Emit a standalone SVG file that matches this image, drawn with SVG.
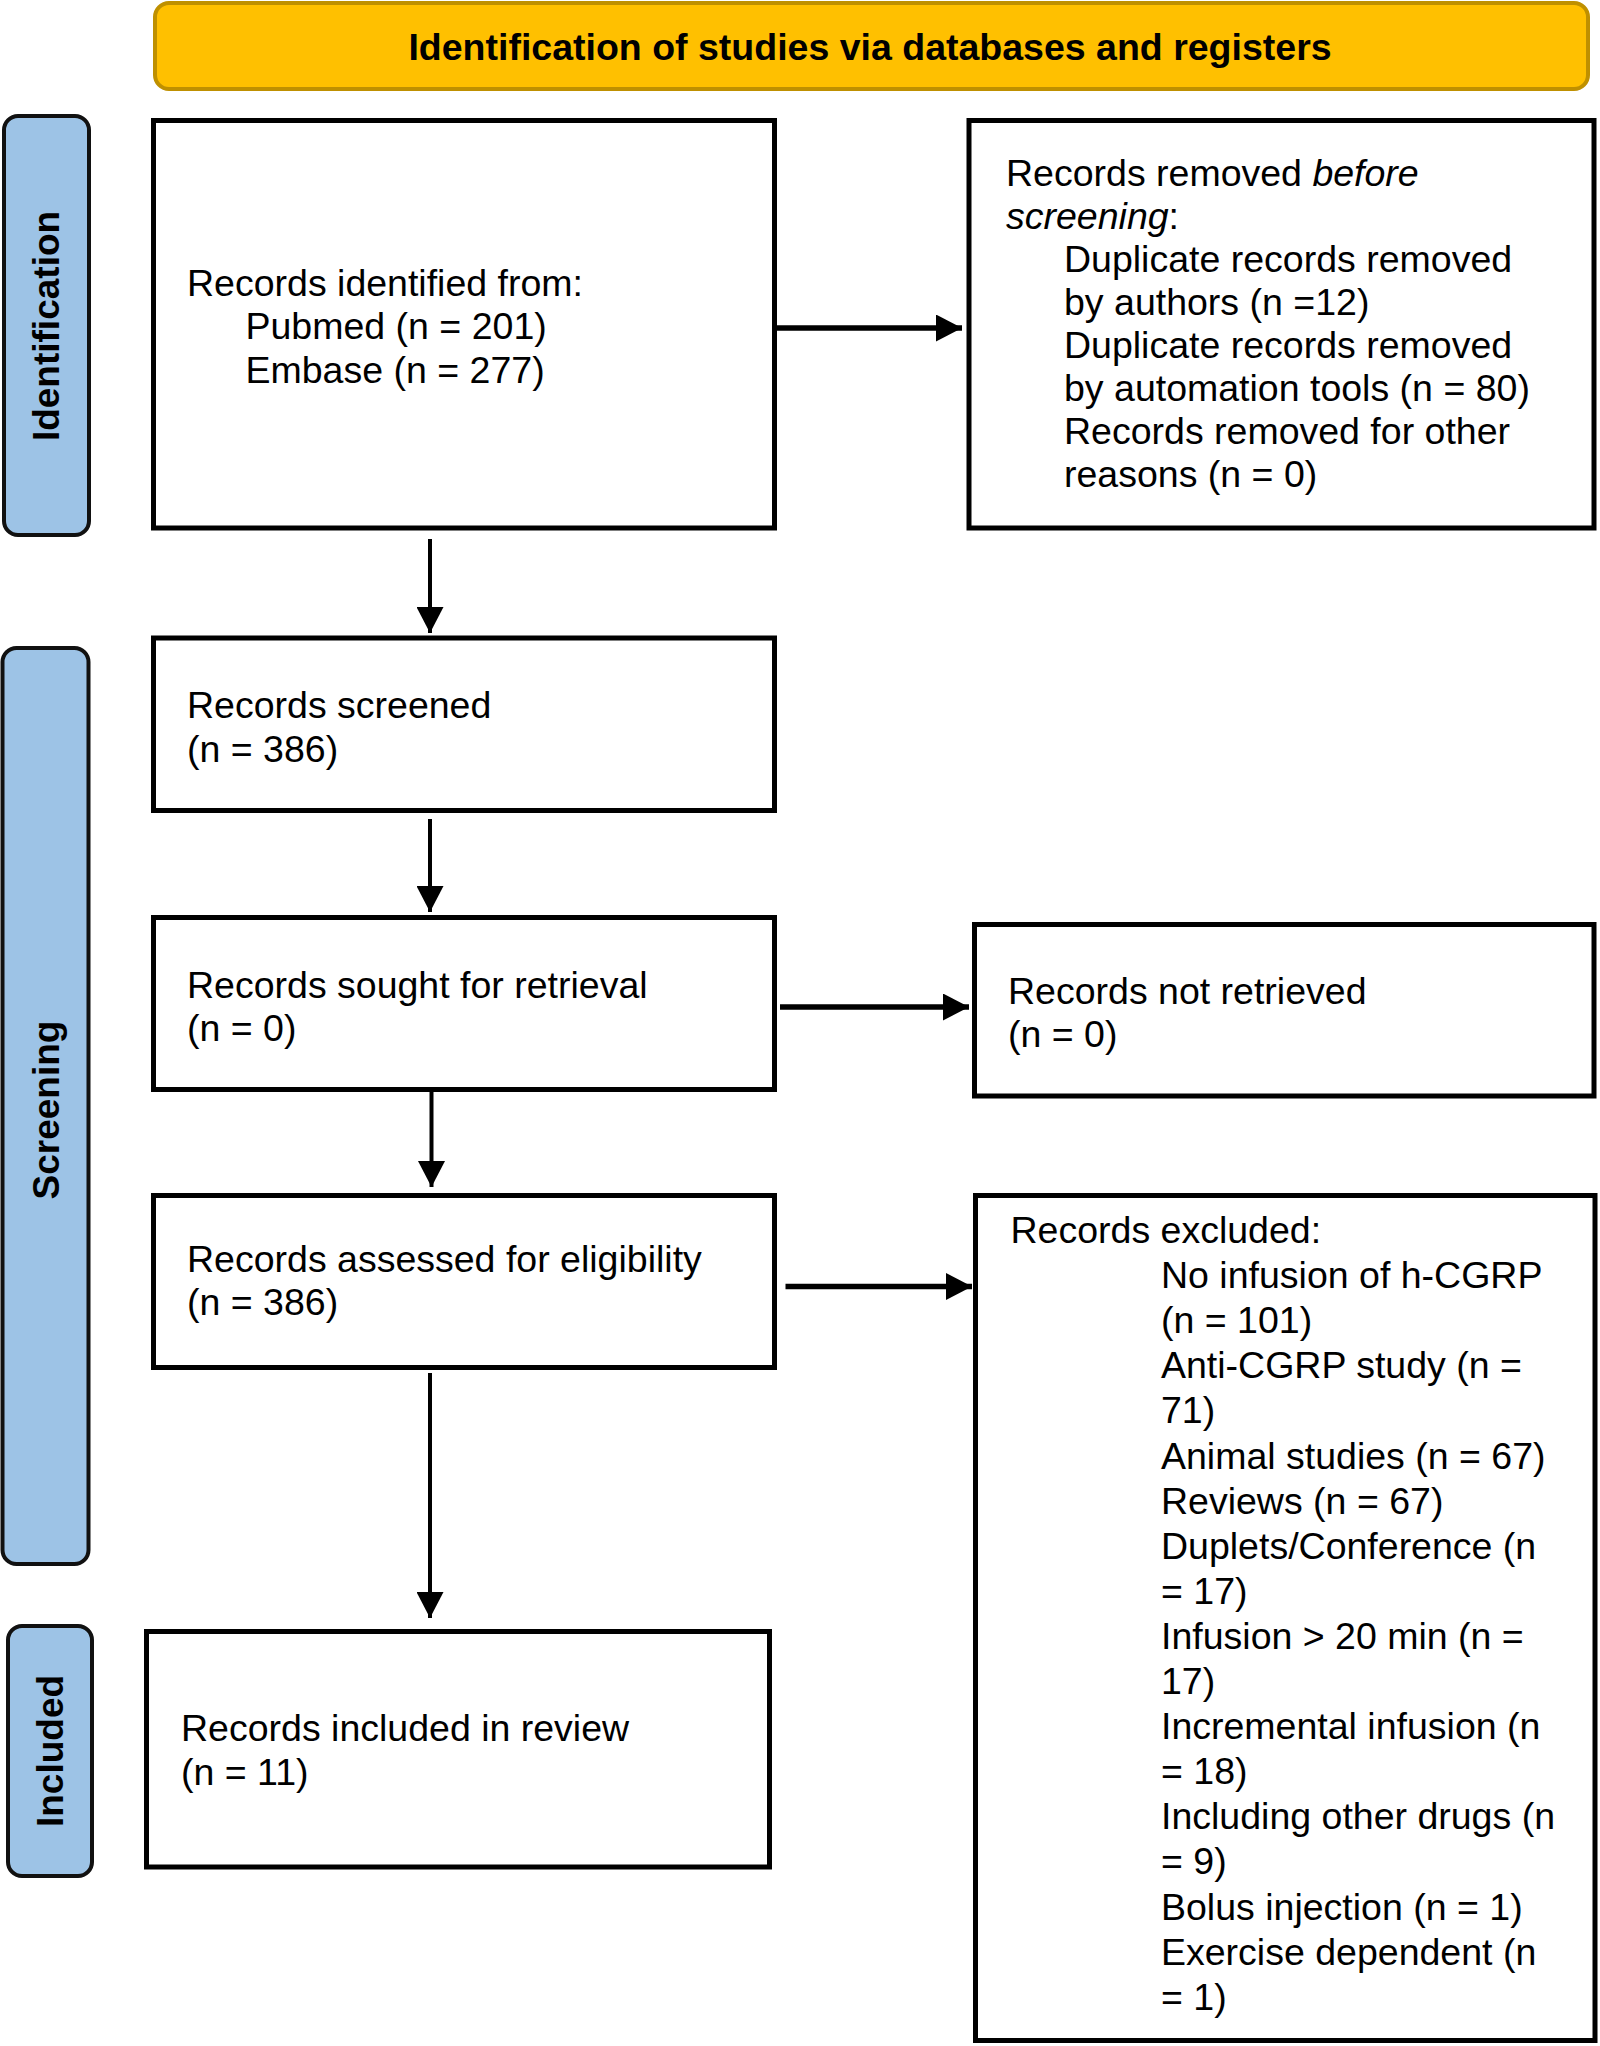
<svg xmlns="http://www.w3.org/2000/svg" width="1600" height="2046" viewBox="0 0 1600 2046">
<defs>
<style>
.box{fill:#ffffff;stroke:#000000;stroke-width:5}
.side{fill:#9DC3E6;stroke:#111111;stroke-width:4}
.t{font-family:"Liberation Sans",Arial,sans-serif;font-size:37.5px;fill:#000000}
.sb{font-family:"Liberation Sans",Arial,sans-serif;font-size:37px;font-weight:bold;fill:#000000;text-anchor:middle}
.hd{font-family:"Liberation Sans",Arial,sans-serif;font-size:37.5px;font-weight:bold;fill:#000000;text-anchor:middle}
.v{stroke:#000000;stroke-width:4;fill:none}
.h{stroke:#000000;stroke-width:5.5;fill:none}
</style>
<marker id="ah" markerUnits="userSpaceOnUse" markerWidth="26" markerHeight="27" refX="26" refY="13.5" orient="auto">
<path d="M0,0 L26,13.5 L0,27 Z" fill="#000000"/>
</marker>
</defs>
<rect width="1600" height="2046" fill="#ffffff"/>

<g id="banner">
<rect x="155" y="3" width="1433" height="86" rx="14" ry="14" fill="#FFC000" stroke="#BF9000" stroke-width="4"/>
<text class="hd" x="870" y="60">Identification of studies via databases and registers</text>
</g>

<g id="side-identification">
<rect class="side" x="4" y="116" width="85" height="419" rx="14" ry="14"/>
<text class="sb" transform="translate(59,326) rotate(-90)">Identification</text>
</g>
<g id="side-screening">
<rect class="side" x="2.5" y="648" width="86" height="916" rx="14" ry="14"/>
<text class="sb" transform="translate(59,1110) rotate(-90)">Screening</text>
</g>
<g id="side-included">
<rect class="side" x="8" y="1626" width="84" height="250" rx="14" ry="14"/>
<text class="sb" transform="translate(63,1751) rotate(-90)">Included</text>
</g>

<g id="node-identified">
<rect class="box" x="153.5" y="120.5" width="621" height="407.5"/>
<text class="t" x="187" y="296">Records identified from:</text>
<text class="t" x="245.5" y="339">Pubmed (n = 201)</text>
<text class="t" x="245.5" y="383">Embase (n = 277)</text>
</g>

<g id="node-removed">
<rect class="box" x="969" y="120.5" width="625" height="407.5"/>
<text class="t" x="1006" y="186">Records removed <tspan font-style="italic">before</tspan></text>
<text class="t" x="1006" y="229"><tspan font-style="italic">screening</tspan>:</text>
<text class="t" x="1064" y="272">Duplicate records removed</text>
<text class="t" x="1064" y="315">by authors (n =12)</text>
<text class="t" x="1064" y="358">Duplicate records removed</text>
<text class="t" x="1064" y="401">by automation tools (n = 80)</text>
<text class="t" x="1064" y="444">Records removed for other</text>
<text class="t" x="1064" y="487">reasons (n = 0)</text>
</g>

<g id="node-screened">
<rect class="box" x="153.5" y="638" width="621" height="172.5"/>
<text class="t" x="187" y="718">Records screened</text>
<text class="t" x="187" y="762">(n = 386)</text>
</g>

<g id="node-sought">
<rect class="box" x="153.5" y="917.5" width="621" height="172"/>
<text class="t" x="187" y="998">Records sought for retrieval</text>
<text class="t" x="187" y="1041">(n = 0)</text>
</g>

<g id="node-not-retrieved">
<rect class="box" x="974.5" y="924.5" width="619.5" height="171.5"/>
<text class="t" x="1008" y="1004">Records not retrieved</text>
<text class="t" x="1008" y="1047">(n = 0)</text>
</g>

<g id="node-assessed">
<rect class="box" x="153.5" y="1195.5" width="621" height="172"/>
<text class="t" x="187" y="1272">Records assessed for eligibility</text>
<text class="t" x="187" y="1315">(n = 386)</text>
</g>

<g id="node-excluded">
<rect class="box" x="975.5" y="1195.5" width="619.5" height="845"/>
<text class="t" x="1010.5" y="1243">Records excluded:</text>
<text class="t" x="1161" y="1288.1">No infusion of h-CGRP</text>
<text class="t" x="1161" y="1333.2">(n = 101)</text>
<text class="t" x="1161" y="1378.3">Anti-CGRP study (n =</text>
<text class="t" x="1161" y="1423.4">71)</text>
<text class="t" x="1161" y="1468.5">Animal studies (n = 67)</text>
<text class="t" x="1161" y="1513.6">Reviews (n = 67)</text>
<text class="t" x="1161" y="1558.7">Duplets/Conference (n</text>
<text class="t" x="1161" y="1603.8">= 17)</text>
<text class="t" x="1161" y="1648.9">Infusion &gt; 20 min (n =</text>
<text class="t" x="1161" y="1694">17)</text>
<text class="t" x="1161" y="1739.1">Incremental infusion (n</text>
<text class="t" x="1161" y="1784.2">= 18)</text>
<text class="t" x="1161" y="1829.3">Including other drugs (n</text>
<text class="t" x="1161" y="1874.4">= 9)</text>
<text class="t" x="1161" y="1919.5">Bolus injection (n = 1)</text>
<text class="t" x="1161" y="1964.6">Exercise dependent (n</text>
<text class="t" x="1161" y="2009.7">= 1)</text>
</g>

<g id="node-included">
<rect class="box" x="146.5" y="1631.5" width="623" height="235.5"/>
<text class="t" x="181" y="1741">Records included in review</text>
<text class="t" x="181" y="1785">(n = 11)</text>
</g>

<g id="connectors">
<line class="v" x1="430" y1="539" x2="430" y2="633" marker-end="url(#ah)"/>
<line class="v" x1="430" y1="819" x2="430" y2="912" marker-end="url(#ah)"/>
<line class="v" x1="431.5" y1="1092" x2="431.5" y2="1187" marker-end="url(#ah)"/>
<line class="v" x1="430" y1="1373" x2="430" y2="1618" marker-end="url(#ah)"/>
<line class="h" x1="777" y1="328" x2="962" y2="328" marker-end="url(#ah)"/>
<line class="h" x1="780" y1="1007" x2="969" y2="1007" marker-end="url(#ah)"/>
<line class="h" x1="785.5" y1="1286.5" x2="972" y2="1286.5" marker-end="url(#ah)"/>
</g>
</svg>
